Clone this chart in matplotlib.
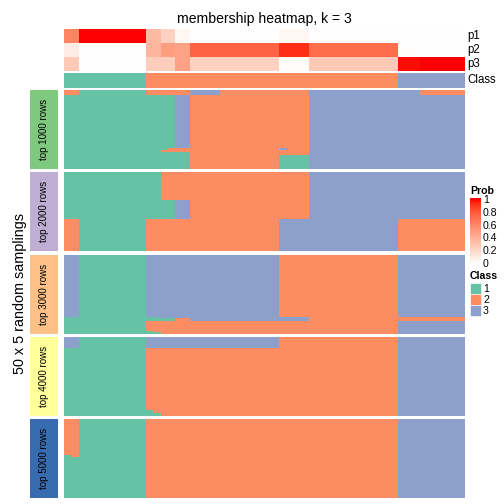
import numpy as np
import matplotlib
matplotlib.use("Agg")
import matplotlib.pyplot as plt
from matplotlib.colors import ListedColormap
from matplotlib.patches import Rectangle

plt.rcParams['font.family'] = ['Liberation Sans', 'DejaVu Sans']

W = H = 504

# ---- data ----
# samples are grouped in runs of columns with (nearly) the same membership
col_groups = [2, 9, 2, 2, 2, 4, 8, 4, 12, 3, 6]
p1_grp = [0.62, 1.00, 0.36, 0.24, 0.04, 0.00, 0.00, 0.04, 0.00, 0.00, 0.00]
p2_grp = [0.10, 0.00, 0.38, 0.50, 0.48, 0.76, 0.76, 0.94, 0.72, 0.01, 0.00]
p3_grp = [0.28, 0.00, 0.26, 0.26, 0.48, 0.24, 0.24, 0.02, 0.28, 0.99, 1.00]
class_grp = [1, 1, 2, 2, 2, 2, 2, 2, 2, 3, 3]

# each block: (number of rows, class of every sample); spaces only separate column groups
top1000 = [
    (3,  "22 111111111 22 22 22 3333 22222222 2222 333333333333 333 222222"),
    (34, "11 111111111 11 11 33 2222 22222222 2222 333333333333 333 333333"),
    (1,  "11 111111111 11 12 22 2222 22222222 3222 333333333333 333 333333"),
    (1,  "11 111111111 11 22 22 2222 22222222 2222 333333333333 333 333333"),
    (2,  "11 111111111 11 11 11 2222 22222222 2222 333333333333 333 333333"),
    (9,  "11 111111111 11 11 11 2222 22222222 1111 333333333333 333 333333"),
]
top2000 = [
    (18, "11 111111111 11 22 22 2222 22222222 2222 333333333333 333 333333"),
    (12, "11 111111111 11 11 33 2222 22222222 2222 333333333333 333 333333"),
    (20, "22 111111111 22 22 22 2222 22222222 3333 333333333333 222 222222"),
]
top3000 = [
    (39, "33 111111111 33 33 33 3333 33333333 2222 222222222222 333 333333"),
    (1,  "11 111111111 11 33 33 3333 33333333 3333 222222222222 222 222222"),
    (2,  "11 111111111 11 11 22 3333 33333333 3333 222222222222 222 222222"),
    (6,  "11 111111111 22 22 22 2222 22222222 2222 222222222222 333 333333"),
    (1,  "11 111111111 12 22 22 2222 22222222 2222 222222222222 333 333333"),
    (1,  "11 111111111 11 22 22 2222 22222222 2222 222222222222 333 333333"),
]
top4000 = [
    (7,  "33 111111111 33 33 33 3333 33333333 2222 222222222222 333 333333"),
    (39, "11 111111111 22 22 22 2222 22222222 2222 222222222222 333 333333"),
    (2,  "11 111111111 12 22 22 2222 22222222 2222 222222222222 333 333333"),
    (2,  "11 111111111 11 22 22 2222 22222222 2222 222222222222 333 333333"),
]
top5000 = [
    (23, "22 111111111 22 22 22 2222 22222222 2222 222222222222 333 333333"),
    (1,  "12 111111111 22 22 22 2222 22222222 2222 222222222222 333 333333"),
    (26, "11 111111111 22 22 22 2222 22222222 2222 222222222222 333 333333"),
]
blocks = [top1000, top2000, top3000, top4000, top5000]
block_labels = ["top 1000 rows", "top 2000 rows", "top 3000 rows", "top 4000 rows", "top 5000 rows"]
block_colors = ["#7FC97F", "#BEAED4", "#FDC086", "#FFFF99", "#386CB0"]
class_colors = ["#66C2A5", "#FC8D62", "#8DA0CB"]
prob_ticks = [0, 0.2, 0.4, 0.6, 0.8, 1]


def lab_to_rgb(L, a, b):
    fy = (L + 16) / 116
    fx = fy + a / 500
    fz = fy - b / 200
    def finv(t):
        return np.where(t > 6 / 29, t ** 3, 3 * (6 / 29) ** 2 * (t - 4 / 29))
    X = 0.95047 * finv(fx)
    Y = finv(fy)
    Z = 1.08883 * finv(fz)
    r = 3.2406 * X - 1.5372 * Y - 0.4986 * Z
    g = -0.9689 * X + 1.8758 * Y + 0.0415 * Z
    bb = 0.0557 * X - 0.2040 * Y + 1.0570 * Z
    rgb = np.clip(np.stack([r, g, bb], -1), 0, 1)
    return np.where(rgb <= 0.0031308, 12.92 * rgb, 1.055 * rgb ** (1 / 2.4) - 0.055)


# white -> red interpolated in LAB space
t = np.linspace(0, 1, 256)
prob_cmap = ListedColormap(np.clip(lab_to_rgb(100 - 46.76 * t, 80.09 * t, 67.20 * t), 0, 1))
class_cmap = ListedColormap(class_colors)


def add_ax(fig, x0, y0, x1, y1):
    ax = fig.add_axes([x0 / W, 1 - y1 / H, (x1 - x0) / W, (y1 - y0) / H])
    ax.set_axis_off()
    return ax


def decode(runs):
    rows = []
    for n, s in runs:
        row = [int(c) for c in s.replace(" ", "")]
        for _ in range(n):
            rows.append(row)
    return np.array(rows)


fig = plt.figure(figsize=(7, 7), dpi=72)
ax0 = fig.add_axes([0, 0, 1, 1])
ax0.set_xlim(0, W)
ax0.set_ylim(H, 0)
ax0.set_axis_off()

X0, X1 = 64, 464.3

p1 = np.repeat(p1_grp, col_groups)
p2 = np.repeat(p2_grp, col_groups)
p3 = np.repeat(p3_grp, col_groups)
cls = np.repeat(class_grp, col_groups)

ax = add_ax(fig, X0, 29.3, X1, 71.3)
ax.imshow(np.vstack([p1, p2, p3]), cmap=prob_cmap, vmin=0, vmax=1,
          aspect='auto', interpolation='nearest')
ax = add_ax(fig, X0, 73, X1, 87.7)
ax.imshow(cls[None, :] - 1, cmap=class_cmap, vmin=0, vmax=2,
          aspect='auto', interpolation='nearest')

for lab, yy in zip(["p1", "p2", "p3", "Class"], [36.3, 50.3, 64.3, 80.3]):
    ax0.text(467, yy, lab, fontsize=11.5, ha='left', va='center')

ax0.text((X0 + X1) / 2, 19, "membership heatmap, k = 3", fontsize=14,
         ha='center', va='center')

# main blocks
for i, runs in enumerate(blocks):
    y0 = 90.1 + i * 82.25
    y1 = y0 + 79
    ax = add_ax(fig, X0, y0, X1, y1)
    ax.imshow(decode(runs) - 1, cmap=class_cmap, vmin=0, vmax=2,
              aspect='auto', interpolation='nearest')
    ax0.add_patch(Rectangle((30, y0), 28, y1 - y0, color=block_colors[i], lw=0))
    ax0.text(44, (y0 + y1) / 2, block_labels[i], rotation=90, fontsize=9.8,
             ha='center', va='center')

ax0.text(20, 294, "50 x 5 random samplings", rotation=90, fontsize=14.4,
         ha='center', va='center')

# Prob legend
ax0.text(470, 191, "Prob", fontsize=10.5, fontweight='bold', ha='left', va='center')
axc = add_ax(fig, 470, 198.3, 480.7, 265)
top_v = (264 - 198.3) / 64
bot_v = (264 - 265) / 64
grad = np.clip(np.linspace(top_v, bot_v, 300), 0, 1)
axc.imshow(grad[:, None], cmap=prob_cmap, vmin=0, vmax=1, aspect='auto')
for v in prob_ticks:
    yy = 264 - 64 * v
    ax0.plot([470, 472.5], [yy, yy], color='white', lw=0.8)
    ax0.plot([478.2, 480.7], [yy, yy], color='white', lw=0.8)
    ax0.text(483, yy, f"{v:g}", fontsize=10.5, ha='left', va='center')

# Class legend
ax0.text(470, 275.7, "Class", fontsize=10.5, fontweight='bold', ha='left', va='center')
for k, c in enumerate(class_colors):
    yy = 283.3 + k * 11
    ax0.add_patch(Rectangle((470, yy), 10.7, 11, facecolor=c, edgecolor='white', lw=0.6))
    ax0.text(483, yy + 5.5, str(k + 1), fontsize=10.5, ha='left', va='center')

fig.savefig("out.png", dpi=72)
